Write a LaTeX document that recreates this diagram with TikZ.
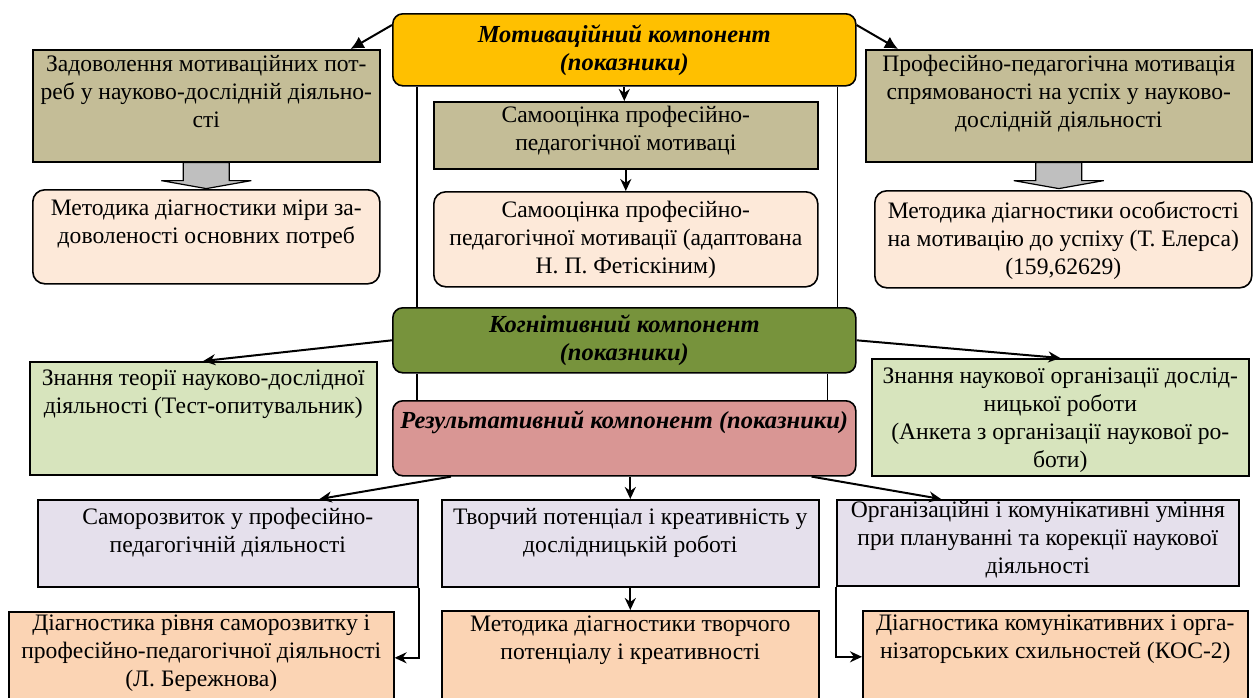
\documentclass[tikz,border=0pt]{standalone}
\usepackage{fontspec}
\setmainfont{Liberation Serif}
\usetikzlibrary{arrows.meta}

\definecolor{motyellow}{HTML}{FFC000}
\definecolor{olive}{HTML}{C4BD97}
\definecolor{lpeach}{HTML}{FDE9D9}
\definecolor{kogreen}{HTML}{77933C}
\definecolor{lgreen}{HTML}{D7E4BD}
\definecolor{respink}{HTML}{D99694}
\definecolor{lavender}{HTML}{E5E0EC}
\definecolor{peach}{HTML}{FBD4B4}
\definecolor{arrgray}{HTML}{BFBFBF}

\newcommand{\fsz}{\fontsize{23.6}{28}\selectfont}
\newcommand{\fbig}{\fontsize{24.5}{28}\selectfont\bfseries\itshape}

\tikzset{
  base/.style={draw, line width=1.6pt, inner sep=0pt, anchor=north west},
  wh/.style 2 args={minimum width=#1, minimum height=#2},
  comp/.style={base, rounded corners=10pt, align=center, font=\fbig},
  txt/.style={anchor=north, align=center, inner sep=0pt, yshift=-#1, font=\fsz},
  link/.style={line width=2pt, ->},
  bigarr/.style={line width=2pt, -{Latex[length=13pt,width=13pt]}},
  vline/.style={line width=1.1pt},
  blockarr/.style={draw, line width=1.2pt, fill=arrgray},
}

\begin{document}
\begin{tikzpicture}[x=1pt, y=-1pt, >={Stealth[length=12pt,width=11pt]}]
\useasboundingbox (0,0) rectangle (1253,697);
\fill[white] (0,0) rectangle (1253,697);

% motivational component
\node[comp, fill=motyellow, wh={463pt}{72pt}] (mot) at (392,13) {Мотиваційний компонент\\(показники)};
\node[base, fill=olive, wh={347pt}{112pt},
  label={[txt=6pt]north:{Задоволення мотиваційних пот-\\реб у науково-дослідній діяльно-\\сті}}] (zad) at (32,49) {};
\node[base, fill=olive, wh={384pt}{67pt},
  label={[txt=5pt]north:{Самооцінка професійно-\\педагогічної мотиваці}}] (samo1) at (433,101) {};
\node[base, fill=olive, wh={386pt}{112pt},
  label={[txt=6pt]north:{Професійно-педагогічна мотивація\\спрямованості на успіх у науково-\\дослідній діяльності}}] (prof) at (865,49) {};
\node[base, rounded corners=12pt, fill=lpeach, wh={347pt}{94pt},
  label={[txt=11pt]north:{Методика діагностики міри за-\\доволеності основних потреб}}] (met1) at (32,189) {};
\node[base, rounded corners=12pt, fill=lpeach, wh={384pt}{95pt},
  label={[txt=10pt]north:{Самооцінка професійно-\\педагогічної мотивації (адаптована\\Н. П. Фетіскіним)}}] (samo2) at (433,191) {};
\node[base, rounded corners=12pt, fill=lpeach, wh={377pt}{97pt},
  label={[txt=11pt]north:{Методика діагностики особистості\\на мотивацію до успіху (Т. Елерса)\\(159,62629)}}] (met2) at (874,190) {};

% cognitive component
\node[comp, fill=kogreen, wh={463pt}{65pt}] (kog) at (392,307) {Когнітивний компонент\\(показники)};
\node[base, fill=lgreen, wh={347pt}{113pt},
  label={[txt=9pt]north:{Знання теорії науково-дослідної\\діяльності (Тест-опитувальник)}}] (zn1) at (29,361) {};
\node[base, fill=lgreen, wh={377pt}{117pt},
  label={[txt=10pt]north:{Знання наукової організації дослід-\\ницької роботи\\(Анкета з організації наукової ро-\\боти)}}] (zn2) at (871,358) {};

% result component
\node[base, rounded corners=10pt, fill=respink, wh={463pt}{75pt},
  label={[txt=11pt, font=\fbig]north:{Результативний компонент (показники)}}] (res) at (392,400) {};
\node[base, fill=lavender, wh={380pt}{87pt},
  label={[txt=9pt]north:{Саморозвиток у професійно-\\педагогічній діяльності}}] (sam) at (37,499) {};
\node[base, fill=lavender, wh={377pt}{87pt},
  label={[txt=9pt]north:{Творчий потенціал і креативність у\\дослідницькій роботі}}] (tvor) at (441,499) {};
\node[base, fill=lavender, wh={402pt}{86pt},
  label={[txt=2pt]north:{Організаційні і комунікативні уміння\\при плануванні та корекції наукової\\діяльності}}] (org) at (836,499) {};
\node[base, fill=peach, wh={385pt}{92pt},
  label={[txt=4pt]north:{Діагностика рівня саморозвитку і\\професійно-педагогічної діяльності\\(Л. Бережнова)}}] (diag1) at (8,611) {};
\node[base, fill=peach, wh={377pt}{92pt},
  label={[txt=6pt]north:{Методика діагностики творчого\\потенціалу і креативності}}] (met3) at (441,610) {};
\node[base, fill=peach, wh={385pt}{92pt},
  label={[txt=5pt]north:{Діагностика комунікативних і орга-\\нізаторських схильностей (КОС-2)}}] (diag2) at (862,610) {};

% connectors
\draw[bigarr] ([yshift=-12pt]mot.north west) -- ([xshift=-30pt]zad.north east);
\draw[bigarr] ([yshift=-12pt]mot.north east) -- ([xshift=33pt]prof.north west);
\draw[link] (mot.south) -- (mot.south |- samo1.north);
\draw[link] (samo1.south) -- (samo2.north);
\draw[vline] ([xshift=25pt]mot.south west) -- ([xshift=25pt]kog.north west);
\draw[vline] ([xshift=-19pt]mot.south east) -- ([xshift=-19pt]kog.north east);
\draw[vline] ([xshift=25pt]kog.south west) -- ([xshift=25pt]res.north west);
\draw[vline] ([xshift=-29pt]kog.south east) -- ([xshift=-29pt]res.north east);
\draw[link] (kog.west) -- (zn1.north);
\draw[link] (kog.east) -- (zn2.north);
\draw[link] ([xshift=59pt]res.south west) -- ([xshift=-99pt]sam.north east);
\draw[link] (res.south -| tvor.north) -- (tvor.north);
\draw[link] ([xshift=-45pt]res.south east) -- ([xshift=105pt]org.north west);
\draw[link] (tvor.south) -- (met3.north);
\draw[link] (sam.south east) |- (diag1.east);
\draw[link] (org.south west) |- (diag2.west);

% block arrows
\draw[blockarr] (zad.south) ++(-23,0) -- ++(0,18) -- ++(-22,0) -- ++(45,8) -- ++(45,-8) -- ++(-22,0) -- ++(0,-18) -- cycle;
\draw[blockarr] (prof.south) ++(-23,0) -- ++(0,18) -- ++(-22,0) -- ++(45,8) -- ++(45,-8) -- ++(-22,0) -- ++(0,-18) -- cycle;
\end{tikzpicture}
\end{document}
